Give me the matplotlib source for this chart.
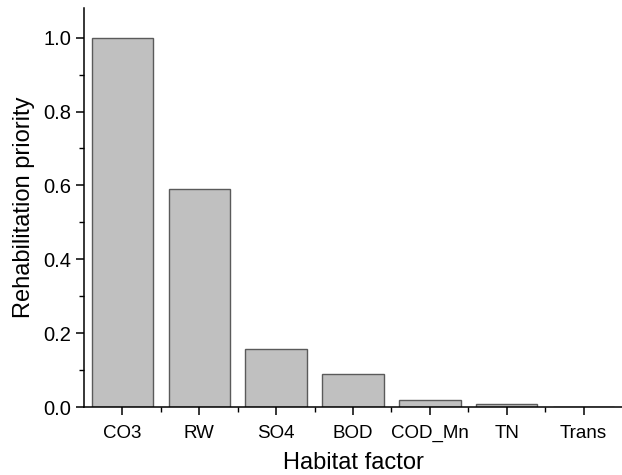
import matplotlib

matplotlib.use("Agg")
import matplotlib.pyplot as plt
import numpy as np
from matplotlib.ticker import FormatStrFormatter, MultipleLocator

factors = ["CO3", "RW", "SO4", "BOD", "COD_Mn", "TN", "Trans"]
priority = [1.0, 0.59, 0.158, 0.089, 0.019, 0.008, 0.001]

plt.rcParams["font.family"] = ["Liberation Sans", "DejaVu Sans"]

fig = plt.figure(figsize=(6.22, 4.75), dpi=100)
ax = fig.add_axes([0.135, 0.143, 0.865, 0.84])

x = np.arange(len(factors))
ax.bar(x, priority, width=0.8, color="#c0c0c0", edgecolor="#5a5a5a", linewidth=1.0)

ax.set_xlim(-0.5, len(factors) - 0.5)
ax.set_ylim(0, 1.08)
ax.set_xticks(x)
ax.set_xticklabels(factors)
ax.set_xticks(x[:-1] + 0.5, minor=True)
ax.yaxis.set_major_locator(MultipleLocator(0.2))
ax.yaxis.set_minor_locator(MultipleLocator(0.1))
ax.yaxis.set_major_formatter(FormatStrFormatter("%.1f"))

for side in ("top", "right"):
    ax.spines[side].set_visible(False)
for side in ("left", "bottom"):
    ax.spines[side].set_linewidth(1.1)

ax.tick_params(which="major", direction="out", length=5.5, width=1.1, pad=3.6)
ax.tick_params(which="minor", direction="out", length=3.5, width=1.0)
ax.tick_params(axis="x", labelsize=13.5, pad=7.2)
ax.tick_params(axis="y", labelsize=14.5)

ax.set_xlabel("Habitat factor", fontsize=17, labelpad=7.5)
ax.set_ylabel("Rehabilitation priority", fontsize=17, labelpad=6)

fig.savefig("out.png", dpi=100)
